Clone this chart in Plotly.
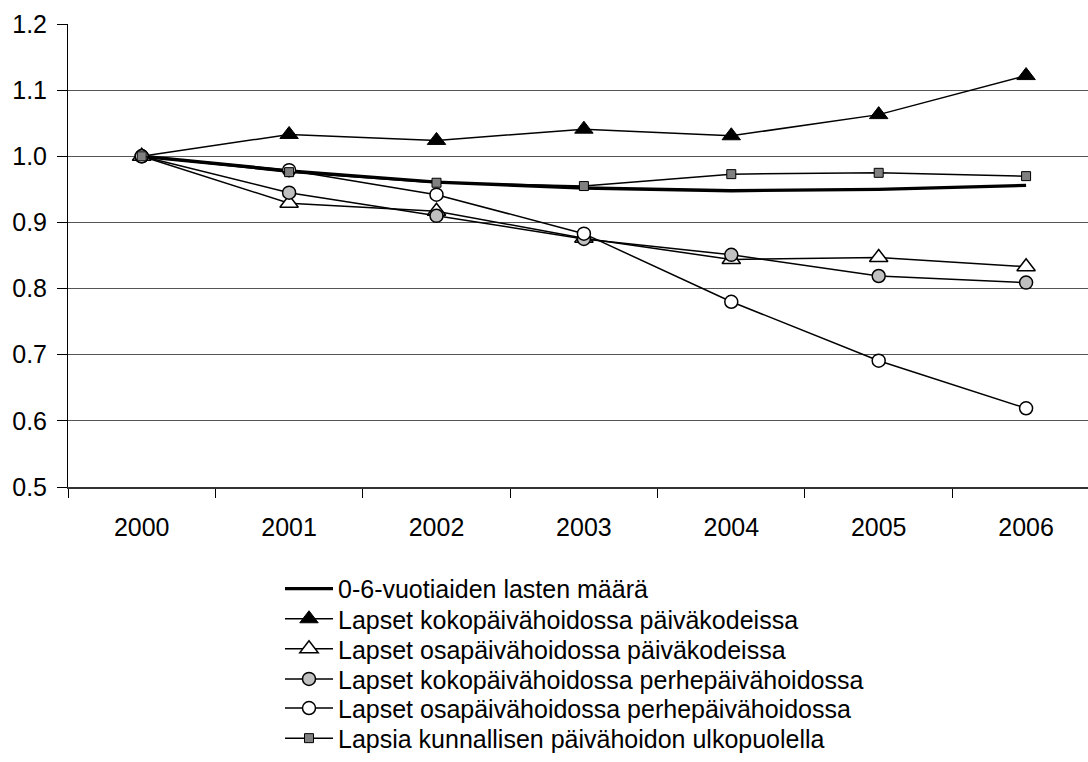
import plotly.graph_objects as go

# Index (2000 = 1.0) of child counts by form of day care
years = ["2000", "2001", "2002", "2003", "2004", "2005", "2006"]

children_0_6 = [1.000, 0.978, 0.961, 0.952, 0.948, 0.950, 0.956]
fullday_kindergarten = [1.000, 1.033, 1.024, 1.041, 1.031, 1.063, 1.122]
partday_kindergarten = [1.000, 0.929, 0.917, 0.876, 0.844, 0.847, 0.833]
fullday_family_care = [1.000, 0.945, 0.910, 0.875, 0.851, 0.819, 0.809]
partday_family_care = [1.000, 0.979, 0.942, 0.883, 0.780, 0.691, 0.619]
outside_municipal = [1.000, 0.976, 0.960, 0.955, 0.973, 0.975, 0.970]

series_names = [
    "0-6-vuotiaiden lasten määrä",
    "Lapset kokopäivähoidossa päiväkodeissa",
    "Lapset osapäivähoidossa päiväkodeissa",
    "Lapset kokopäivähoidossa perhepäivähoidossa",
    "Lapset osapäivähoidossa perhepäivähoidossa",
    "Lapsia kunnallisen päivähoidon ulkopuolella",
]

FONT = "Liberation Sans, Arial, sans-serif"
W, H = 1088, 762
ML, MR, MT, MB = 68, 0, 24, 261

styles = [
    dict(mode="lines", line=dict(color="black", width=3.4)),
    dict(mode="lines+markers", line=dict(color="black", width=1.5),
         marker=dict(symbol="triangle-up", size=16, color="black",
                     line=dict(color="black", width=1))),
    dict(mode="lines+markers", line=dict(color="black", width=1.5),
         marker=dict(symbol="triangle-up", size=16, color="white",
                     line=dict(color="black", width=1.5))),
    dict(mode="lines+markers", line=dict(color="black", width=1.5),
         marker=dict(symbol="circle", size=13, color="#c0c0c0",
                     line=dict(color="black", width=1.5))),
    dict(mode="lines+markers", line=dict(color="black", width=1.5),
         marker=dict(symbol="circle", size=13, color="white",
                     line=dict(color="black", width=1.5))),
    dict(mode="lines+markers", line=dict(color="black", width=1.5),
         marker=dict(symbol="square", size=9, color="#808080",
                     line=dict(color="black", width=1))),
]

values = [children_0_6, fullday_kindergarten, partday_kindergarten,
          fullday_family_care, partday_family_care, outside_municipal]

fig = go.Figure()
legend_ids = ["legend"] + [f"legend{i}" for i in range(2, 7)]
for name, vals, st, lg in zip(series_names, values, styles, legend_ids):
    fig.add_trace(go.Scatter(x=years, y=vals, name=name, legend=lg, **st))

# one single-entry legend per series, stacked below the plot
plot_h = H - MT - MB
plot_w = W - ML - MR
row_centers = [606, 637, 668, 699, 729, 760]
legend_layout = {}
for lg, yc in zip(legend_ids, row_centers):
    legend_layout[lg] = dict(
        x=(280 - ML) / plot_w, xanchor="left",
        y=(H - MB - yc) / plot_h, yanchor="middle",
        bgcolor="rgba(0,0,0,0)", borderwidth=0,
        font=dict(family=FONT, size=25, color="black"),
        itemwidth=48, orientation="v",
    )

fig.update_layout(
    width=W, height=H,
    margin=dict(l=ML, r=MR, t=MT, b=MB, pad=0),
    paper_bgcolor="white", plot_bgcolor="white",
    showlegend=True,
    font=dict(family=FONT, size=25, color="black"),
    **legend_layout,
)

fig.update_xaxes(
    type="category", categoryorder="array", categoryarray=years,
    range=[-0.5, 6.42], tickson="boundaries",
    ticks="outside", ticklen=9, tickcolor="black", tickwidth=1,
    showline=True, linecolor="#333333", linewidth=2,
    showgrid=False, zeroline=False,
    tickfont=dict(family=FONT, size=25, color="black"),
    ticklabelstandoff=17,
)
fig.update_yaxes(
    range=[0.5, 1.2], dtick=0.1, tick0=0.5, tickformat=".1f",
    ticks="outside", ticklen=10, tickcolor="black", tickwidth=1,
    showline=True, linecolor="black", linewidth=1,
    showgrid=True, gridcolor="#555555", gridwidth=1,
    zeroline=False,
    tickfont=dict(family=FONT, size=25, color="black"),
    ticklabelstandoff=5,
)

fig.write_html("out.html")
